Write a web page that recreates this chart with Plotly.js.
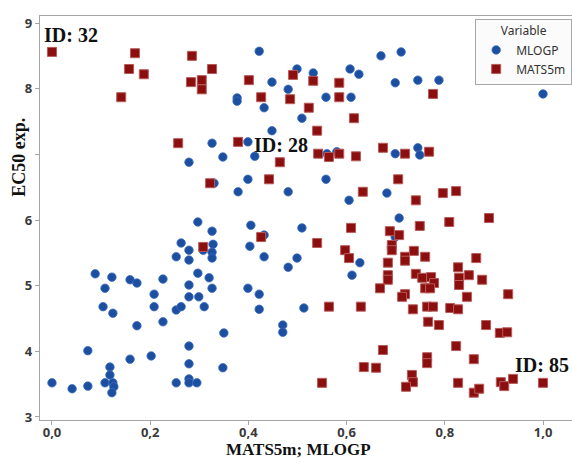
<!DOCTYPE html>
<html>
<head>
<meta charset="utf-8">
<script src="https://cdn.plot.ly/plotly-3.0.1.min.js"></script>
<style>html,body{margin:0;padding:0;background:#fff;}#chart{width:572px;height:463px;}</style>
</head>
<body>
<div id="chart"></div>
<script>
// MLOGP series (x = descriptor value, y = EC50 exp.)
const mlogpX = [0.422,0.448,0.377,0.377,0.432,0.481,0.499,0.532,0.509,0.558,0.607,0.625,0.609,0.670,0.448,0.326,0.399,0.348,0.413,0.560,0.580,0.711,0.699,0.745,0.788,1.0,0.699,0.745,0.749,0.279,0.297,0.263,0.279,0.253,0.279,0.297,0.088,0.122,0.108,0.159,0.173,0.226,0.208,0.279,0.279,0.299,0.104,0.124,0.208,0.226,0.173,0.253,0.263,0.073,0.0,0.041,0.073,0.108,0.118,0.118,0.124,0.126,0.122,0.159,0.202,0.253,0.279,0.279,0.279,0.279,0.295,0.399,0.379,0.481,0.558,0.605,0.682,0.326,0.405,0.509,0.432,0.308,0.328,0.326,0.326,0.403,0.432,0.499,0.481,0.627,0.611,0.320,0.326,0.399,0.422,0.310,0.422,0.513,0.470,0.470,0.350,0.348,0.707,0.699,0.330];
const mlogpY = [8.57,8.10,7.86,7.81,7.71,7.99,8.30,8.24,7.55,7.87,8.30,8.22,7.87,8.50,7.36,7.17,7.19,6.96,6.97,7.01,7.04,8.56,8.09,8.13,8.13,7.92,7.01,7.10,6.99,6.88,5.97,5.65,5.54,5.44,5.39,5.19,5.18,5.13,4.96,5.09,5.04,5.10,4.87,5.01,4.83,4.83,4.68,4.58,4.68,4.45,4.39,4.63,4.68,4.01,3.52,3.43,3.47,3.52,3.76,3.64,3.52,3.46,3.37,3.88,3.93,3.52,4.08,3.81,3.58,3.52,3.52,6.62,6.43,6.43,6.62,6.30,6.41,5.83,5.92,5.88,5.77,5.54,5.63,5.51,5.42,5.60,5.44,5.42,5.28,5.35,5.16,5.12,4.96,4.96,4.87,4.68,4.64,4.66,4.40,4.29,4.28,3.75,6.03,5.74,6.56];

// MATS5m series
const matsX = [0.0,0.141,0.157,0.169,0.187,0.257,0.285,0.283,0.326,0.305,0.305,0.401,0.426,0.485,0.491,0.532,0.523,0.585,0.585,0.615,0.540,0.379,0.464,0.542,0.564,0.585,0.619,0.674,0.776,0.719,0.768,0.322,0.442,0.633,0.609,0.426,0.308,0.540,0.597,0.605,0.684,0.684,0.684,0.668,0.564,0.629,0.674,0.635,0.660,0.550,0.705,0.741,0.796,0.823,0.749,0.809,0.890,0.688,0.707,0.692,0.692,0.737,0.719,0.719,0.760,0.864,0.827,0.741,0.754,0.772,0.778,0.829,0.829,0.849,0.876,0.760,0.770,0.719,0.713,0.845,0.929,0.735,0.764,0.776,0.811,0.827,0.766,0.788,0.884,0.912,0.927,0.823,0.764,0.764,0.859,0.733,0.735,0.721,0.827,0.859,0.870,0.914,0.921,0.939,1.0];
const matsY = [8.56,7.87,8.30,8.54,8.22,7.17,8.50,8.10,8.30,8.13,7.99,8.13,7.87,7.84,8.21,8.12,7.71,8.09,7.87,7.55,7.36,7.19,6.88,7.01,6.96,7.01,6.97,7.10,7.92,7.01,7.04,6.56,6.62,6.43,5.88,5.74,5.59,5.65,5.54,5.42,5.35,5.16,5.09,4.96,4.68,4.68,4.02,3.76,3.75,3.52,6.62,6.30,6.41,6.44,5.91,5.97,6.03,5.83,5.77,5.62,5.54,5.53,5.44,5.38,5.44,5.42,5.28,5.18,5.12,5.13,5.04,5.12,5.01,5.16,5.09,4.96,4.96,4.87,4.83,4.83,4.87,4.64,4.68,4.68,4.66,4.64,4.45,4.40,4.40,4.28,4.29,4.08,3.91,3.82,3.88,3.64,3.53,3.46,3.52,3.37,3.43,3.53,3.47,3.58,3.52];

const yTickVals = [3,4,5,6,7,8,9];
const yTickText = ['3','4','5','6','','8','9'];
const xTickVals = [0,0.2,0.4,0.6,0.8,1.0];

const seriesNames = ['MLOGP','MATS5m'];
const legendTitle = 'Variable';
const xTitle = 'MATS5m; MLOGP';
const yTitle = 'EC50 exp.';
const idLabels = ['ID: 32','ID: 28','ID: 85'];

const tickFont = {family:'Noto Sans, Open Sans, sans-serif', size:13, color:'#3a3a3a', weight:'bold'};
const serif = 'Liberation Serif, Times New Roman, serif';

const traces = [
  {type:'scatter', mode:'markers', name:seriesNames[0], x:mlogpX, y:mlogpY,
   marker:{symbol:'circle', size:8.5, color:'#1c4f9f', line:{width:0.8, color:'#3f6fbf'}}},
  {type:'scatter', mode:'markers', name:seriesNames[1], x:matsX, y:matsY,
   marker:{symbol:'square', size:9, color:'#8b0f0f', line:{width:1, color:'#b85a5a'}}}
];

const layout = {
  width:572, height:463,
  margin:{l:40, r:0, t:16, b:43, pad:0, autoexpand:false},
  paper_bgcolor:'#ffffff', plot_bgcolor:'#ffffff',
  separators:', ',
  showlegend:true,
  legend:{
    title:{text:legendTitle, side:'top center', font:{family:'Noto Sans, sans-serif', size:12, color:'#333'}},
    x:0.818, y:0.993, xanchor:'left', yanchor:'top',
    bgcolor:'#fbfbfb', bordercolor:'#a8a8a8', borderwidth:1,
    font:{family:'Noto Sans, sans-serif', size:12, color:'#333'},
    itemwidth:30, tracegroupgap:0
  },
  xaxis:{
    range:[-0.0244, 1.059], tickvals:xTickVals, tickformat:'.1f',
    showgrid:false, zeroline:false, showline:true, mirror:true, linecolor:'#a5a5a5', linewidth:1.2,
    ticks:'outside', ticklen:4, tickcolor:'#a5a5a5', tickfont:tickFont, ticklabelstandoff:-4
  },
  yaxis:{
    range:[2.954, 9.107], tickvals:yTickVals, ticktext:yTickText,
    showgrid:false, zeroline:false, showline:true, mirror:false, linecolor:'#a5a5a5', linewidth:1.2,
    ticks:'outside', ticklen:4, tickcolor:'#a5a5a5', tickfont:tickFont
  },
  annotations:[
    {text:yTitle, xref:'paper', yref:'paper', x:-0.04, y:0.651, textangle:-90, showarrow:false,
     xanchor:'center', yanchor:'middle', font:{family:serif, size:18, color:'#111', weight:'bold'}},
    {text:xTitle, xref:'paper', yref:'paper', x:0.485, y:-0.074, showarrow:false,
     xanchor:'center', yanchor:'middle', font:{family:serif, size:17, color:'#111', weight:'bold'}},
    {text:idLabels[0], xref:'paper', yref:'paper', x:0.058, y:0.953, showarrow:false,
     xanchor:'center', yanchor:'middle', font:{family:serif, size:20, color:'#111', weight:'bold'}},
    {text:idLabels[1], xref:'paper', yref:'paper', x:0.453, y:0.681, showarrow:false,
     xanchor:'center', yanchor:'middle', font:{family:serif, size:20, color:'#111', weight:'bold'}},
    {text:idLabels[2], xref:'paper', yref:'paper', x:0.944, y:0.136, showarrow:false,
     xanchor:'center', yanchor:'middle', font:{family:serif, size:20, color:'#111', weight:'bold'}}
  ]
};

Plotly.newPlot('chart', traces, layout, {displayModeBar:false, staticPlot:true});
</script>
</body>
</html>
